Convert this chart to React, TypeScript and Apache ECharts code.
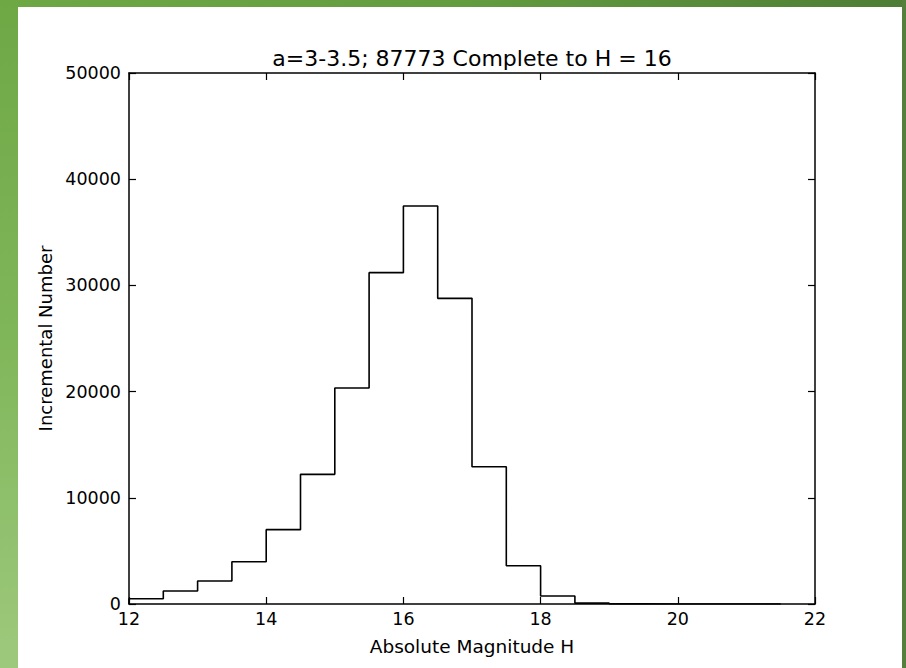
import React, { useEffect, useRef } from "react";
import * as echarts from "echarts";

// Histogram of absolute magnitude H, bins of width 0.5
const binLeftEdges = [12, 12.5, 13, 13.5, 14, 14.5, 15, 15.5, 16, 16.5, 17, 17.5, 18, 18.5, 19, 19.5, 20, 20.5, 21];
const binUpperEdge = 21.5;
const binCounts = [500, 1220, 2170, 3980, 7000, 12210, 20340, 31200, 37480, 28780, 12930, 3600, 750, 80, 12, 5, 3, 1, 1];

const xTicks = [12, 14, 16, 18, 20, 22];
const yTicks = [0, 10000, 20000, 30000, 40000, 50000];

const titleText = "a=3-3.5; 87773 Complete to H = 16";
const xLabel = "Absolute Magnitude H";
const yLabel = "Incremental Number";

const FONT = "DejaVu Sans";

export default function App() {
  const ref = useRef<HTMLDivElement>(null);

  useEffect(() => {
    if (!ref.current) return;
    const chart = echarts.init(ref.current, undefined, { renderer: "svg" });

    // step outline: start at the baseline, one point per bin, drop back at the last edge
    const stepData: number[][] = [[binLeftEdges[0], 0]];
    binLeftEdges.forEach((x, i) => stepData.push([x, binCounts[i]]));
    stepData.push([binUpperEdge, 0]);

    const axisLine = { show: true, onZero: false, lineStyle: { color: "#000", width: 1.5 } };
    const axisTick = { show: true, inside: true, length: 7, lineStyle: { color: "#000", width: 1.2 } };
    const labelStyle = { color: "#000", fontFamily: FONT, fontSize: 17.5, formatter: (v: number) => String(v) };

    const xMin = xTicks[0];
    const xMax = xTicks[xTicks.length - 1];
    const xInterval = xTicks[1] - xTicks[0];
    const yMin = yTicks[0];
    const yMax = yTicks[yTicks.length - 1];
    const yInterval = yTicks[1] - yTicks[0];

    chart.setOption({
      animation: false,
      backgroundColor: "transparent",
      title: {
        text: titleText,
        left: 467,
        top: 41,
        textAlign: "center",
        textStyle: { color: "#000", fontFamily: FONT, fontSize: 22, fontWeight: "normal", lineHeight: 24 },
      },
      grid: { left: 129, right: 91, top: 73, bottom: 64, containLabel: false },
      xAxis: [
        {
          type: "value",
          position: "bottom",
          min: xMin,
          max: xMax,
          interval: xInterval,
          axisLine,
          axisTick,
          splitLine: { show: false },
          axisLabel: { ...labelStyle, margin: 6 },
          name: xLabel,
          nameLocation: "middle",
          nameGap: 33,
          nameTextStyle: { color: "#000", fontFamily: FONT, fontSize: 18.5 },
        },
        {
          type: "value",
          position: "top",
          min: xMin,
          max: xMax,
          interval: xInterval,
          axisLine,
          axisTick,
          splitLine: { show: false },
          axisLabel: { show: false },
        },
      ],
      yAxis: [
        {
          type: "value",
          position: "left",
          min: yMin,
          max: yMax,
          interval: yInterval,
          axisLine,
          axisTick,
          splitLine: { show: false },
          axisLabel: { ...labelStyle, margin: 8 },
          name: yLabel,
          nameLocation: "middle",
          nameGap: 75,
          nameTextStyle: { color: "#000", fontFamily: FONT, fontSize: 18 },
        },
        {
          type: "value",
          position: "right",
          min: yMin,
          max: yMax,
          interval: yInterval,
          axisLine,
          axisTick,
          splitLine: { show: false },
          axisLabel: { show: false },
        },
      ],
      series: [
        {
          type: "line",
          step: "end",
          data: stepData,
          symbol: "none",
          lineStyle: { color: "#000", width: 1.6 },
          z: 3,
        },
      ],
    });

    return () => chart.dispose();
  }, []);

  return (
    <div style={{ position: "fixed", left: 0, top: 0, width: 906, height: 668, overflow: "hidden", background: "#ffffff" }}>
      {/* green frame */}
      <div style={{ position: "absolute", left: 0, top: 0, width: 906, height: 7, background: "linear-gradient(to right, #6ea845, #649d40 50%, #4e7d35)" }} />
      <div style={{ position: "absolute", left: 0, top: 0, width: 18, height: 668, background: "linear-gradient(to bottom, #6ea845, #80b65a 50%, #9dc97c)" }} />
      <div style={{ position: "absolute", left: 902, top: 0, width: 4, height: 668, background: "#557f3a" }} />
      <div ref={ref} style={{ position: "absolute", left: 0, top: 0, width: 906, height: 668 }} />
    </div>
  );
}
